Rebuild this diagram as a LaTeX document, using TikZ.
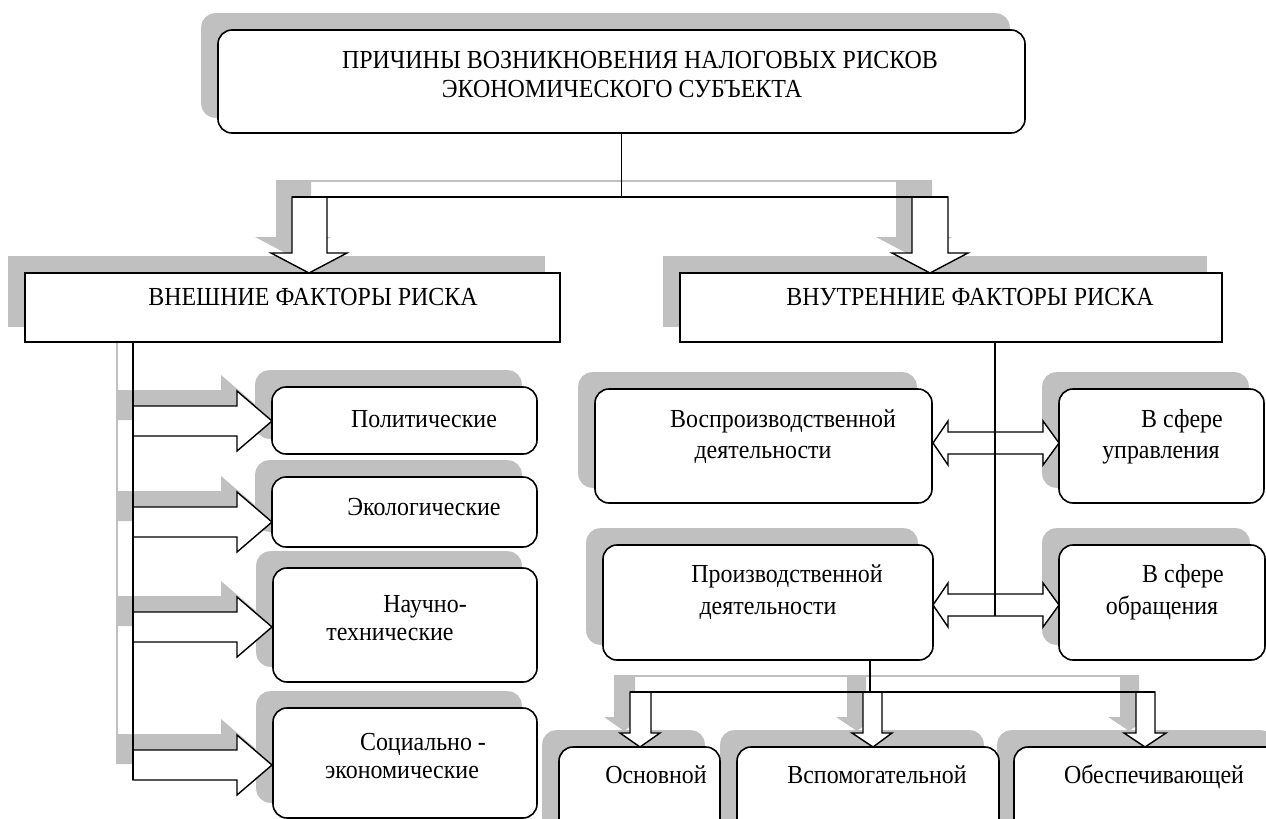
\documentclass[tikz,border=0pt]{standalone}
\usepackage{fontspec}
\setmainfont{Liberation Serif}[FakeStretch=0.92]
\usetikzlibrary{fit,backgrounds,calc}
\definecolor{shc}{RGB}{192,192,192}
\newcommand{\shadowof}[2]{\fill[shc,#2] ([shift={(-16,-16)}]#1.north west) rectangle ([shift={(-16,-16)}]#1.south east);}
\newcommand{\rblockarrow}[2]{% #1 y centre, #2 style
  \path[#2] (133,#1-15) -- (237,#1-15) -- (237,#1-30) -- (272,#1) -- (237,#1+30) -- (237,#1+15) -- (133,#1+15) -- cycle;}
\newcommand{\dblockarrow}[6]{% #1 stem left, #2 stem right, #3 head left, #4 head right, #5 tip x, #6 style; uses \ytop \yhead \ytip
  \path[#6] (#1,\ytop) -- (#1,\yhead) -- (#3,\yhead) -- (#5,\ytip) -- (#4,\yhead) -- (#2,\yhead) -- (#2,\ytop) -- cycle;}
\newcommand{\lrblockarrow}[2]{% #1 y centre, #2 style
  \path[#2] (933,#1) -- (948,#1-22) -- (948,#1-11) -- (1043,#1-11) -- (1043,#1-22) -- (1059,#1) -- (1043,#1+22) -- (1043,#1+11) -- (948,#1+11) -- (948,#1+22) -- cycle;}
\begin{document}
\begin{tikzpicture}[x=1pt,y=-1pt,
  rbox/.style={draw, line width=1.6pt, fill=white, rounded corners=14pt, inner sep=0pt},
  sbox/.style={draw, line width=1.6pt, fill=white, inner sep=0pt},
  txt/.style={font=\fontsize{26}{30}\selectfont, inner sep=0pt, anchor=base},
  conn/.style={line width=1.3pt},
  barrow/.style={draw, line width=1.4pt, fill=white, line join=miter},
  shfill/.style={fill=shc},
  shline/.style={draw=shc, line width=1.3pt}]
\useasboundingbox (0,0) rectangle (1266,819);

% boxes
\node[rbox, fit={(218,30)(1025,133)}] (top) {};
\node[sbox, fit={(25,273)(560,342)}] (ext) {};
\node[sbox, fit={(680,273)(1222,342)}] (int) {};
\node[rbox, fit={(272,387)(537,454)}] (pol) {};
\node[rbox, fit={(272,477)(537,547)}] (eco) {};
\node[rbox, fit={(273,568)(537,682)}] (nau) {};
\node[rbox, fit={(273,708)(537,818)}] (soc) {};
\node[rbox, fit={(595,389)(932,503)}] (vos) {};
\node[rbox, fit={(1059,389)(1264,503)}] (upr) {};
\node[rbox, fit={(603,545)(933,660)}] (pro) {};
\node[rbox, fit={(1059,545)(1265,660)}] (obr) {};
\node[rbox, fit={(559,747)(720,850)}] (osn) {};
\node[rbox, fit={(737,747)(999,850)}] (vsp) {};
\node[rbox, fit={(1014,747)(1290,850)}] (obe) {};

% shadows
\begin{pgfonlayer}{background}
  \foreach \b in {top,pol,eco,nau,soc,vos,upr,pro,obr,osn,vsp,obe} {\shadowof{\b}{rounded corners=14pt}}
  \foreach \b in {ext,int} {\shadowof{\b}{}}
  \begin{scope}[shift={(-16,-16)}]
    \def\ytop{197}\def\yhead{253}\def\ytip{273}
    \dblockarrow{292}{327}{271}{347}{309}{shfill}
    \dblockarrow{912}{948}{892}{968}{930}{shfill}
    \draw[shline] (292,197) -- (948,197);
    \draw[shline] (133,342) -- (133,780);
    \foreach \c in {421,522,627,765} {\rblockarrow{\c}{shfill}}
    \def\ytop{692}\def\yhead{733}\def\ytip{747}
    \dblockarrow{630}{651}{620}{660}{640}{shfill}
    \dblockarrow{863}{882}{852}{892}{873}{shfill}
    \dblockarrow{1136}{1155}{1124}{1166}{1145}{shfill}
    \draw[shline] (630,692) -- (1155,692);
  \end{scope}
\end{pgfonlayer}

% top connector
\def\ytop{197}\def\yhead{253}\def\ytip{273}
\dblockarrow{292}{327}{271}{347}{309}{barrow}
\dblockarrow{912}{948}{892}{968}{930}{barrow}
\coordinate (hl) at (292,197);
\coordinate (hr) at (948,197);
\draw[conn] (hl) -- (hr);
\draw[conn] (top.south) -- (top.south |- hl);

% external factors
\coordinate (vt) at (133,342);
\coordinate (vb) at (133,780);
\foreach \c in {421,522,627,765} {\rblockarrow{\c}{barrow}}
\draw[conn] (vt) -- (vb);

% internal factors
\lrblockarrow{443}{barrow}
\lrblockarrow{605}{barrow}
\coordinate (iv) at (995,616);
\draw[conn] (int.south -| iv) -- (iv);

% production branches
\def\ytop{692}\def\yhead{733}\def\ytip{747}
\dblockarrow{630}{651}{620}{660}{640}{barrow}
\dblockarrow{863}{882}{852}{892}{873}{barrow}
\dblockarrow{1136}{1155}{1124}{1166}{1145}{barrow}
\coordinate (pl) at (630,692);
\coordinate (pr) at (1155,692);
\coordinate (pm) at (870,692);
\draw[conn] (pl) -- (pr);
\draw[conn] (pro.south -| pm) -- (pm);

% texts
\node[txt] (t1) at (640,68) {ПРИЧИНЫ ВОЗНИКНОВЕНИЯ НАЛОГОВЫХ РИСКОВ};
\node[txt] (t2) at (622,97) {ЭКОНОМИЧЕСКОГО СУБЪЕКТА};
\node[txt] (t3) at (313,305) {ВНЕШНИЕ ФАКТОРЫ РИСКА};
\node[txt] (t4) at (970,305) {ВНУТРЕННИЕ ФАКТОРЫ РИСКА};
\node[txt] (t5) at (424,427) {Политические};
\node[txt] (t6) at (424,515) {Экологические};
\node[txt] (t7) at (425,612) {Научно-};
\node[txt] (t8) at (390,640) {технические};
\node[txt] (t9) at (423,750) {Социально -};
\node[txt] (t10) at (402,778) {экономические};
\node[txt] (t11) at (783,427) {Воспроизводственной};
\node[txt] (t12) at (763,458) {деятельности};
\node[txt] (t13) at (1182,427) {В сфере};
\node[txt] (t14) at (1161,458) {управления};
\node[txt] (t15) at (787,582) {Производственной};
\node[txt] (t16) at (768,614) {деятельности};
\node[txt] (t17) at (1183,582) {В сфере};
\node[txt] (t18) at (1162,614) {обращения};
\node[txt] (t19) at (656,783) {Основной};
\node[txt] (t20) at (877,783) {Вспомогательной};
\node[txt] (t21) at (1154,783) {Обеспечивающей};
\end{tikzpicture}
\end{document}
